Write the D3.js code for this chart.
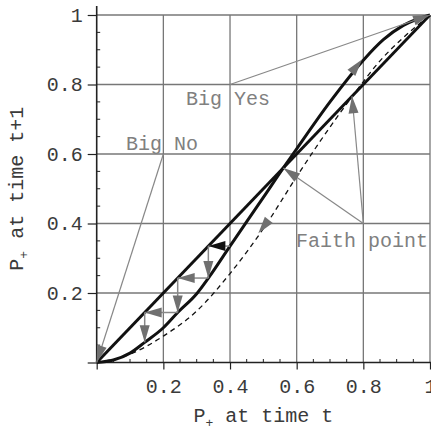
<!DOCTYPE html>
<html><head><meta charset="utf-8">
<script src="https://cdn.jsdelivr.net/npm/d3@7"></script>
<style>body{margin:0;background:#fff}svg{display:block}</style>
</head><body>
<svg id="c" width="431" height="430"></svg>
<script>
// ---- data ----
const xTicks = [0.2, 0.4, 0.6, 0.8, 1];
const yTicks = [0.2, 0.4, 0.6, 0.8, 1];
const minorTicks = [0.05,0.1,0.15,0.25,0.3,0.35,0.45,0.5,0.55,0.65,0.7,0.75,0.85,0.9,0.95];
const diagX = [0, 1];
const diagY = [0, 1];
const curveX = [0, 0.05, 0.1, 0.144, 0.2, 0.243, 0.3, 0.335, 0.4, 0.5, 0.56, 0.6, 0.7, 0.8, 0.86, 0.92, 1];
const curveY = [0, 0.007, 0.027, 0.058, 0.1, 0.144, 0.198, 0.243, 0.335, 0.475, 0.56, 0.615, 0.75, 0.87, 0.929, 0.97, 1];
const dashX = [0, 0.1, 0.2, 0.3, 0.4, 0.5, 0.6, 0.67, 0.77, 0.85, 0.92, 1];
const dashY = [0, 0.024, 0.076, 0.148, 0.256, 0.385, 0.535, 0.636, 0.77, 0.868, 0.935, 1];
const cobweb = [0.40, 0.335, 0.243, 0.144, 0.058];
const labels = ["Big Yes", "Big No", "Faith point"];
const labelAnchors = [[0.4, 0.8], [0.2, 0.6], [0.8, 0.4]];
const pointerTargets = [[[1, 1]], [[0, 0]], [[0.56, 0.56], [0.766, 0.766]]];
const flowHeads = [[[0.756, 0.824], [0.796, 0.872]], [[0.52, 0.415], [0.485, 0.372]]];
const xLabel = "at time t";
const yLabel = "at time t+1";

// ---- drawing ----
const svg = d3.select("#c");
const x = d3.scaleLinear().domain([0, 1]).range([96.7, 430]);
const y = d3.scaleLinear().domain([0, 1]).range([362.5, 15]);
const font = "'Liberation Mono', 'Courier New', monospace";
const gridC = "#777", axisC = "#222", annC = "#808080", headC = "#707070";

// grid
const g = svg.append("g");
g.selectAll(".gv").data(xTicks).join("line")
  .attr("x1", d => x(d)).attr("x2", d => x(d)).attr("y1", y(0)).attr("y2", y(1))
  .attr("stroke", gridC).attr("stroke-width", 1.3);
g.selectAll(".gh").data(yTicks).join("line")
  .attr("y1", d => y(d)).attr("y2", d => y(d)).attr("x1", x(0)).attr("x2", x(1))
  .attr("stroke", gridC).attr("stroke-width", 1.3);

// axes
const xAxis = svg.append("g").attr("transform", `translate(0,${y(0)})`)
  .call(d3.axisBottom(x).tickValues([0].concat(xTicks)).tickSize(7).tickPadding(9)
    .tickFormat(d => d === 0 ? "" : d3.format("")(d)));
const yAxis = svg.append("g").attr("transform", `translate(${x(0)},0)`)
  .call(d3.axisLeft(y).tickValues([0].concat(yTicks)).tickSize(9).tickPadding(5)
    .tickFormat(d => d === 0 ? "" : d3.format("")(d)));
[xAxis, yAxis].forEach(a => {
  a.select(".domain").remove();
  a.selectAll("line").attr("stroke", axisC).attr("stroke-width", 1.2);
  a.selectAll("text").attr("font-family", font).attr("font-size", 20).attr("fill", "#3a3a3a");
});
xAxis.selectAll("text").attr("dy", "0.71em");
svg.append("line").attr("x1", x(0)).attr("x2", x(1.01)).attr("y1", y(0)).attr("y2", y(0))
  .attr("stroke", axisC).attr("stroke-width", 1.6);
svg.append("line").attr("x1", x(0)).attr("x2", x(0)).attr("y1", y(0)).attr("y2", y(1.026))
  .attr("stroke", axisC).attr("stroke-width", 1.6);
// minor ticks (inward)
svg.selectAll(".mx").data(minorTicks).join("line")
  .attr("x1", d => x(d)).attr("x2", d => x(d)).attr("y1", y(0)).attr("y2", y(0) - 3.5)
  .attr("stroke", axisC).attr("stroke-width", 1);
svg.selectAll(".my").data(minorTicks).join("line")
  .attr("y1", d => y(d)).attr("y2", d => y(d)).attr("x1", x(0)).attr("x2", x(0) + 3.5)
  .attr("stroke", axisC).attr("stroke-width", 1);

// axis labels
const xl = svg.append("text").attr("x", (x(0) + x(1)) / 2).attr("y", 422)
  .attr("text-anchor", "middle").attr("font-family", font).attr("font-size", 20).attr("fill", "#3a3a3a");
xl.append("tspan").text("P");
xl.append("tspan").attr("font-size", 13).attr("dy", 5).text("+");
xl.append("tspan").attr("dy", -5).text(" " + xLabel);
const yl = svg.append("text").attr("transform", `translate(23,${(y(0) + y(1)) / 2}) rotate(-90)`)
  .attr("text-anchor", "middle").attr("font-family", font).attr("font-size", 20).attr("fill", "#3a3a3a");
yl.append("tspan").text("P");
yl.append("tspan").attr("font-size", 13).attr("dy", 5).text("+");
yl.append("tspan").attr("dy", -5).text(" " + yLabel);

// curves
const line = d3.line().x(d => x(d[0])).y(d => y(d[1])).curve(d3.curveMonotoneX);
svg.append("path").attr("d", line(dashX.map((v, i) => [v, dashY[i]])))
  .attr("fill", "none").attr("stroke", "#111").attr("stroke-width", 1.3).attr("stroke-dasharray", "5,4");
svg.append("path").attr("d", line(diagX.map((v, i) => [v, diagY[i]])))
  .attr("fill", "none").attr("stroke", "#111").attr("stroke-width", 3);
svg.append("path").attr("d", line(curveX.map((v, i) => [v, curveY[i]])))
  .attr("fill", "none").attr("stroke", "#111").attr("stroke-width", 3);

// arrow helpers
function head(px0, py0, px1, py1, color, len = 17, hw = 5) {
  const dx = px1 - px0, dy = py1 - py0, L = Math.hypot(dx, dy) || 1;
  const ux = dx / L, uy = dy / L;
  const bx = px1 - ux * len, by = py1 - uy * len;
  svg.append("path")
    .attr("d", `M${px1},${py1}L${bx - uy * hw},${by + ux * hw}L${bx + uy * hw},${by - ux * hw}Z`)
    .attr("fill", color);
}
function arrow(a, b, color, lineColor, width) {
  const px0 = x(a[0]), py0 = y(a[1]), px1 = x(b[0]), py1 = y(b[1]);
  svg.append("line").attr("x1", px0).attr("y1", py0).attr("x2", px1).attr("y2", py1)
    .attr("stroke", lineColor).attr("stroke-width", width);
  head(px0, py0, px1, py1, color);
}

// cobweb: horizontal steps curve->diagonal, vertical steps diagonal->curve
for (let i = 0; i < cobweb.length - 2; i++) {
  const horizA = [cobweb[i], cobweb[i + 1]], horizB = [cobweb[i + 1], cobweb[i + 1]];
  const c = i === 0 ? "#111" : headC;
  arrow(horizA, horizB, c, "#888", 1.5);
  arrow(horizB, [cobweb[i + 1], cobweb[i + 2]], headC, "#888", 1.5);
}

// pointers from labels
labelAnchors.forEach((a, i) => {
  pointerTargets[i].forEach(t => arrow(a, t, headC, "#888", 1.2));
});
// flow heads along curves
flowHeads.forEach(([a, b]) => head(x(a[0]), y(a[1]), x(b[0]), y(b[1]), headC));

// annotation labels
const labPos = [[186, 105], [126, 150], [296, 247]];
labels.forEach((t, i) => {
  svg.append("text").attr("x", labPos[i][0]).attr("y", labPos[i][1])
    .attr("font-family", font).attr("font-size", 20).attr("fill", annC).text(t);
});
</script>
</body></html>
